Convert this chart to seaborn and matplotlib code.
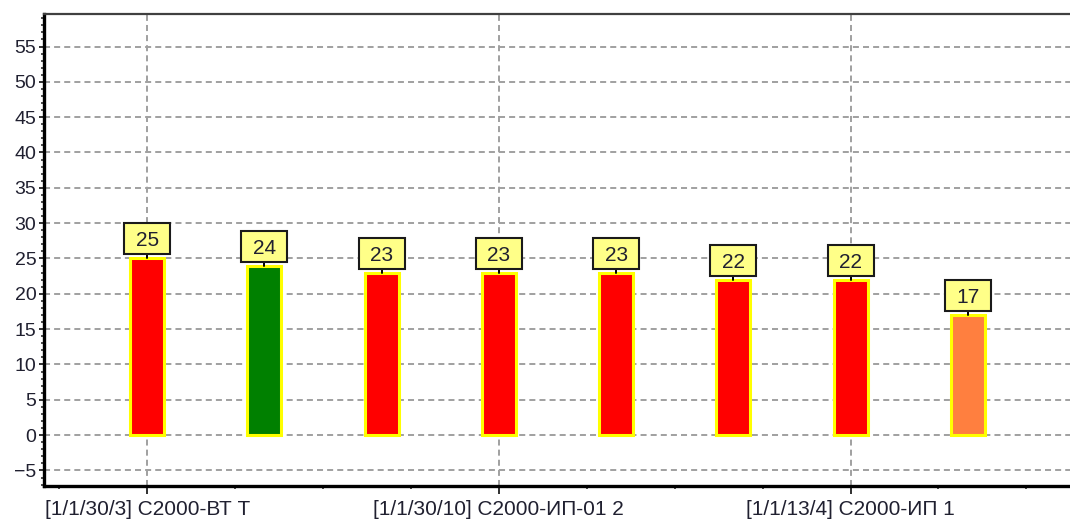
import matplotlib
matplotlib.use("Agg")
import matplotlib.pyplot as plt
import matplotlib.transforms as mtransforms
from matplotlib.patches import Rectangle
from matplotlib.ticker import MultipleLocator, FixedLocator
import seaborn as sns
import pandas as pd

# Device readings
devices = [
    "[1/1/30/3] С2000-ВТ Т",
    "[1/1/30/7] С2000-ВТ Т",
    "[1/1/30/9] С2000-ИП-01 1",
    "[1/1/30/10] С2000-ИП-01 2",
    "[1/1/30/11] С2000-ИП-01 3",
    "[1/1/13/2] С2000-ИП 2",
    "[1/1/13/4] С2000-ИП 1",
    "[1/1/13/5] С2000-ИП 3",
]
values = [25, 24, 23, 23, 23, 22, 22, 17]
bar_colors = ["#FF0000", "#008000", "#FF0000", "#FF0000",
              "#FF0000", "#FF0000", "#FF0000", "#FF7F3F"]
labelled_ticks = [0, 3, 6]

df = pd.DataFrame({"device": devices, "value": values})

sns.set_theme(style="white")
plt.rcParams["font.family"] = ["Liberation Sans", "DejaVu Sans"]

fig = plt.figure(figsize=(10.70, 5.21), dpi=100)
ax = fig.add_axes([44 / 1070, 1 - 486 / 521, (1085 - 44) / 1070, (486 - 14) / 521])

sns.barplot(data=df, x="device", y="value", hue="device",
            palette=bar_colors, saturation=1, width=0.29,
            edgecolor="#FFFF00", linewidth=2.2, legend=False, ax=ax, zorder=3)

ax.set_xlim(-0.88, 8.0)
ax.set_ylim(-7.2, 59.6)

# ticks
ax.xaxis.set_major_locator(FixedLocator(labelled_ticks))
ax.set_xticklabels([devices[i] for i in labelled_ticks])
ax.xaxis.set_minor_locator(MultipleLocator(0.75))
ax.yaxis.set_major_locator(FixedLocator(list(range(-5, 60, 5))))
ax.yaxis.set_minor_locator(MultipleLocator(1))
ax.tick_params(axis="both", which="major", direction="out", width=1.4,
               color="#303030", labelcolor="#202030")
ax.tick_params(axis="y", which="major", length=3.5, pad=2, labelsize=14)
ax.tick_params(axis="x", which="major", length=6, pad=4, labelsize=15)
ax.tick_params(axis="both", which="minor", direction="out", length=2.5, width=1.2,
               color="#303030")
ax.tick_params(left=True, bottom=True, which="both")
ax.set_xlabel("")
ax.set_ylabel("")

# grid
ax.set_axisbelow(True)
ax.grid(True, which="major", axis="both", color="#A0A0A0",
        linestyle=(0, (3.1, 2.1)), linewidth=1.4)

# frame
for side in ["left", "bottom"]:
    ax.spines[side].set_linewidth(2.4)
    ax.spines[side].set_color("#000000")
ax.spines["top"].set_linewidth(1.6)
ax.spines["top"].set_color("#404040")
ax.spines["right"].set_visible(False)

# value boxes above each bar
box_w, box_h, gap = 0.46, 0.31, 0.04
for i, v in enumerate(values):
    offset = mtransforms.ScaledTranslation(i, v, ax.transData)
    trans = fig.dpi_scale_trans + offset
    ax.plot([0, 0], [0.0, gap], transform=trans, color="black",
            linewidth=1.4, zorder=4, clip_on=False)
    ax.add_patch(Rectangle((-box_w / 2, gap), box_w, box_h, transform=trans,
                           facecolor="#FFFF88", edgecolor="#1A1A1A",
                           linewidth=1.5, zorder=5, clip_on=False))
    ax.text(0, gap + box_h / 2, f"{v}", transform=trans, ha="center",
            va="center_baseline", fontsize=15, color="#202030", zorder=6)

fig.savefig("out.png", dpi=100)
